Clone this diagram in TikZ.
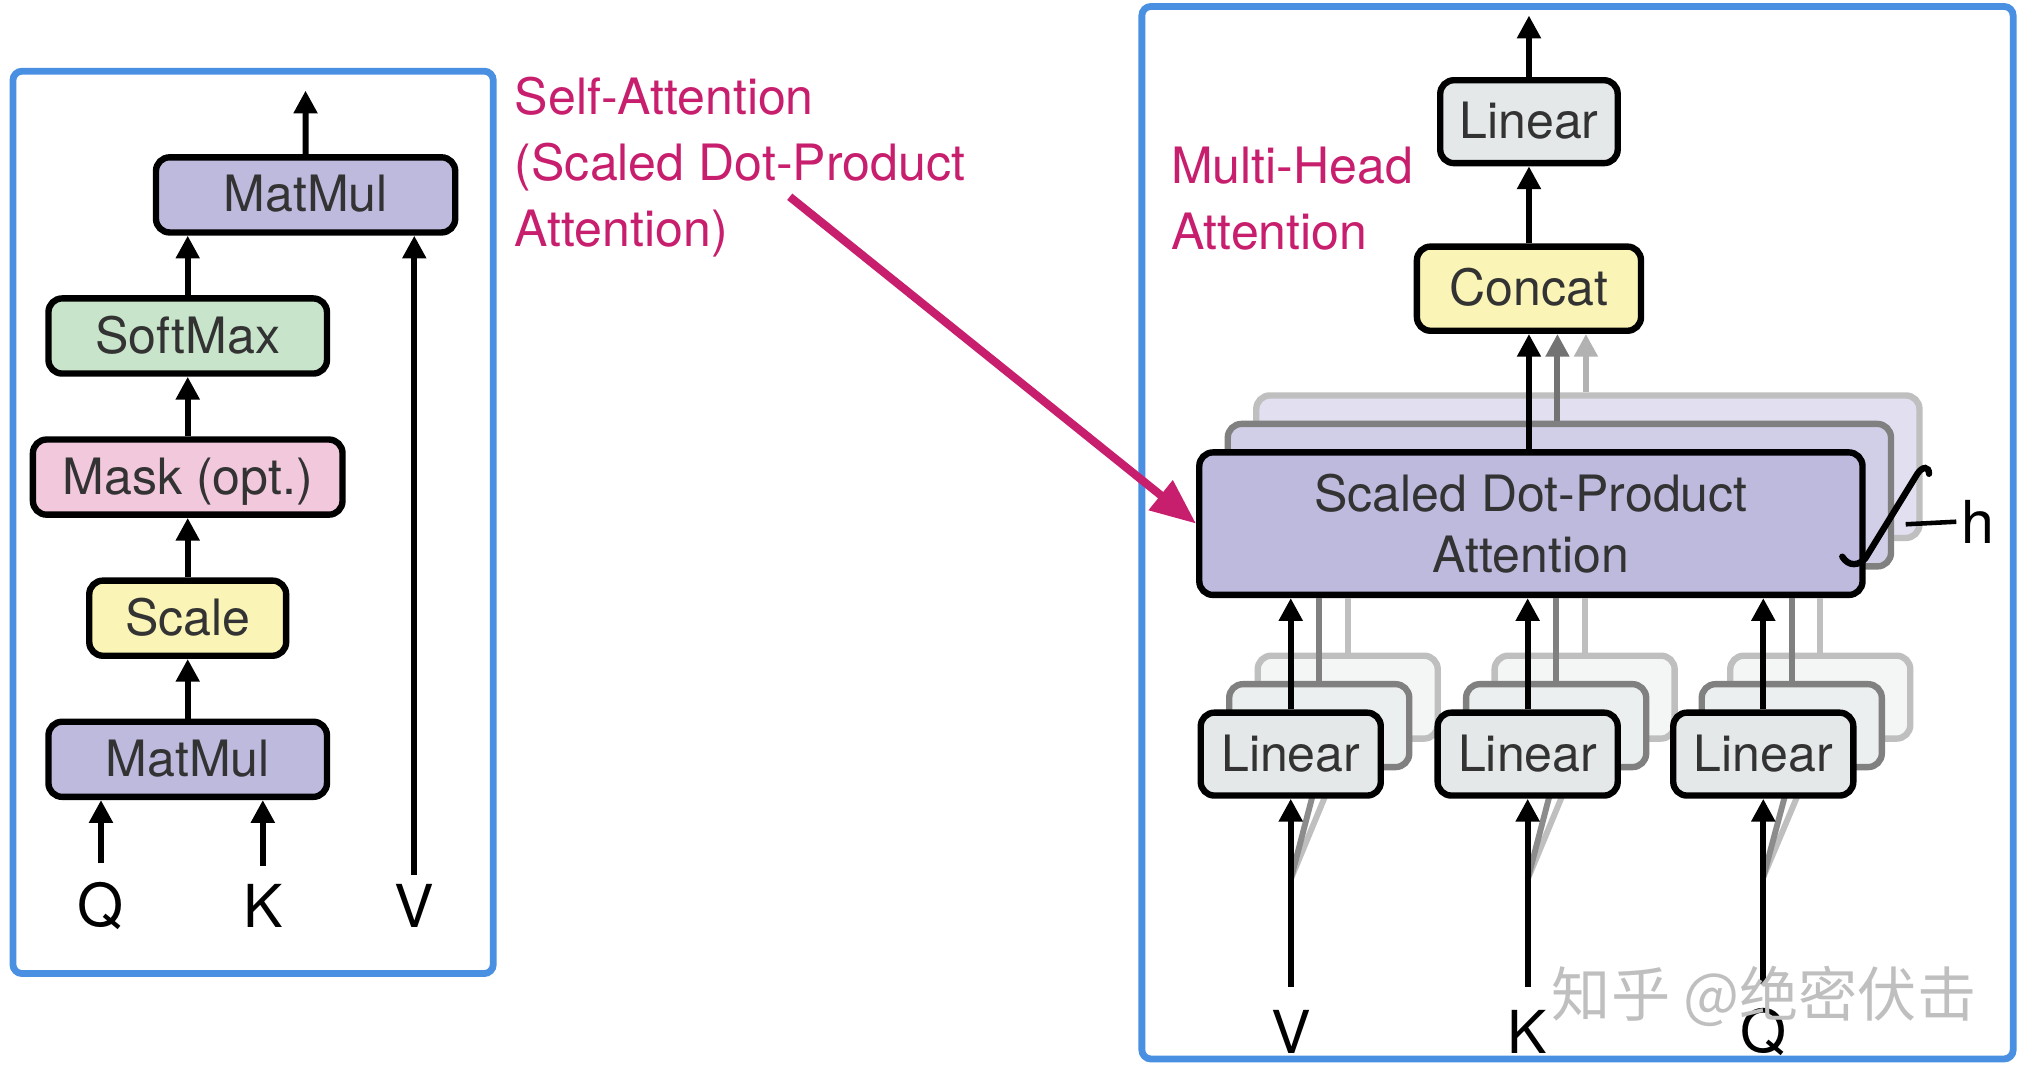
\documentclass[tikz,border=0pt]{standalone}
\usepackage{fontspec}
\setmainfont{TeX Gyre Heros}
\newfontfamily\cjk{Noto Sans CJK SC}
\usetikzlibrary{arrows.meta,positioning,calc}

\definecolor{frameblue}{RGB}{74,144,226}
\definecolor{notepink}{RGB}{200,30,110}
\definecolor{colMatmul}{RGB}{190,186,222}
\definecolor{colSoftmax}{RGB}{200,228,202}
\definecolor{colMask}{RGB}{242,200,220}
\definecolor{colScale}{RGB}{250,244,182}
\definecolor{colLinear}{RGB}{228,232,232}

\begin{document}
\begin{tikzpicture}[
  x=0.01cm, y=0.01cm,
  node distance=0.46cm,
  box/.style={draw, line width=1.4pt, rounded corners=3pt, inner sep=0pt,
    text=black!80, font=\fontsize{11}{13.4}\selectfont},
  op/.style={box, minimum height=0.58cm, text height=8pt, text depth=0.5pt},
  lin/.style={op, minimum width=1.39cm, minimum height=0.64cm},
  att/.style={box, minimum width=5.12cm, minimum height=1.10cm, align=center},
  arrow/.style={-{Triangle[length=5pt,width=5pt]}, line width=1.3pt},
  note/.style={text=notepink, align=left, anchor=north west, inner sep=0pt,
    font=\fontsize{11}{14.5}\selectfont},
  io/.style={font=\fontsize{13}{13}\selectfont, inner sep=1pt},
  frame/.style={draw=frameblue, line width=1.5pt, rounded corners=2pt}]
  \useasboundingbox (0,0) rectangle (1568,828);
  \fill[white] (0,0) rectangle (1568,828);

  % scaled dot-product attention
  \draw[frame] (10,76) rectangle (381,773);
  \node[op, fill=colMatmul, minimum width=2.15cm] (mm1) at (145,241.5) {MatMul};
  \node[op, fill=colScale, minimum width=1.52cm, above=of mm1] (sc) {Scale};
  \node[op, fill=colMask, minimum width=2.39cm, above=of sc] (mask) {Mask (opt.)};
  \node[op, fill=colSoftmax, minimum width=2.15cm, above=of mask] (sm) {SoftMax};
  \node[op, fill=colMatmul, minimum width=2.31cm, above=of sm, xshift=0.91cm] (mm2) {MatMul};
  \coordinate (out1) at (236,758);
  \node[io] (q1) at (78,128) {Q};
  \node[io] (k1) at (203,128) {K};
  \node[io] (v1) at (320,128) {V};
  \draw[arrow, shorten <=3pt] (q1) -- (q1 |- mm1.south);
  \draw[arrow, shorten <=3pt] (k1) -- (k1 |- mm1.south);
  \draw[arrow, shorten <=1pt] (v1) -- (v1 |- mm2.south);
  \draw[arrow] (mm1) -- (sc);
  \draw[arrow] (sc) -- (mask);
  \draw[arrow] (mask) -- (sm);
  \draw[arrow] (sm) -- (sm |- mm2.south);
  \draw[arrow] (mm2) -- (out1);
  \node[note] (sa-note) at (397,769) {Self-Attention\\(Scaled Dot-Product\\Attention)};

  % multi-head attention
  \draw[frame] (882,10) rectangle (1555,823);
  \node[note] (mh-note) at (904,715) {Multi-Head\\Attention};
  \node[att, fill=colMatmul!45, draw=black!25] (att3) at (1226.5,467.5) {};
  \node[att, fill=colMatmul!70, draw=black!50] (att2) at (1204.5,445.5) {};
  \node[att, fill=colMatmul] (att) at (1182.5,423.5) {Scaled Dot-Product\\Attention};
  \node[op, fill=colScale, minimum width=1.73cm, minimum height=0.65cm] (concat) at (1181,605) {Concat};
  \node[lin, fill=colLinear, minimum width=1.37cm] (lin-out) at (1181,734) {Linear};
  \coordinate (out2) at (1181,816);
  \path (concat.south) ++(22,0) coordinate (c2) ++(22,0) coordinate (c3);
  \draw[arrow, black!30] (att3.north -| c3) -- (c3);
  \draw[arrow, black!55] (att2.north -| c2) -- (c2);
  \draw[arrow] (att.north -| concat) -- (concat);
  \draw[arrow] (concat) -- (lin-out);
  \draw[arrow] (lin-out) -- (out2);

  \foreach \x/\n/\l in {997/v/V, 1180/k/K, 1362/q/Q} {
    \node[io] (\n-in) at (\x,31) {\l};
    \path (\n-in.north) ++(0,97) coordinate (\n-split);
    \node[lin, fill=colLinear!40, draw=black!25] (\n-lin3) at (\x+44,289.5) {};
    \draw[black!25, line width=1.3pt] (\n-split) -- (\n-lin3.south);
    \draw[black!25, line width=1.3pt] (\n-lin3) -- (\n-lin3 |- att.south);
    \node[lin, fill=colLinear!70, draw=black!50] (\n-lin2) at (\x+22,267.5) {};
    \draw[black!45, line width=1.3pt] (\n-split) -- (\n-lin2.south);
    \draw[black!50, line width=1.3pt] (\n-lin2) -- (\n-lin2 |- att.south);
    \node[lin, fill=colLinear] (\n-lin) at (\x,245.5) {Linear};
    \draw[arrow] (\n-lin) -- (\n-lin |- att.south);
    \draw[arrow, shorten <=4pt] (\n-in) -- (\n-lin);
  }

  % h heads
  \node[io] (h) at (1528,425) {h};
  \draw[line width=1.4pt, line cap=round] (1423,398) .. controls (1428,390) and (1436,391) .. (1441,397)
    -- (1481,462) .. controls (1485,468) and (1490,468) .. (1490,462);
  \draw[line width=1pt] (1472,423) -- (h.west);

  \coordinate (sa-tail) at (610,676);
  \draw[-{Triangle[length=10pt,width=8pt]}, draw=notepink, fill=notepink, line width=1.8pt] (sa-tail) -- (att.west);

  \node[anchor=west, text=black!25, font=\cjk\fontsize{13}{13}\selectfont, inner sep=0pt] (mark) at (1198,58) {知乎 @绝密伏击};
\end{tikzpicture}
\end{document}
